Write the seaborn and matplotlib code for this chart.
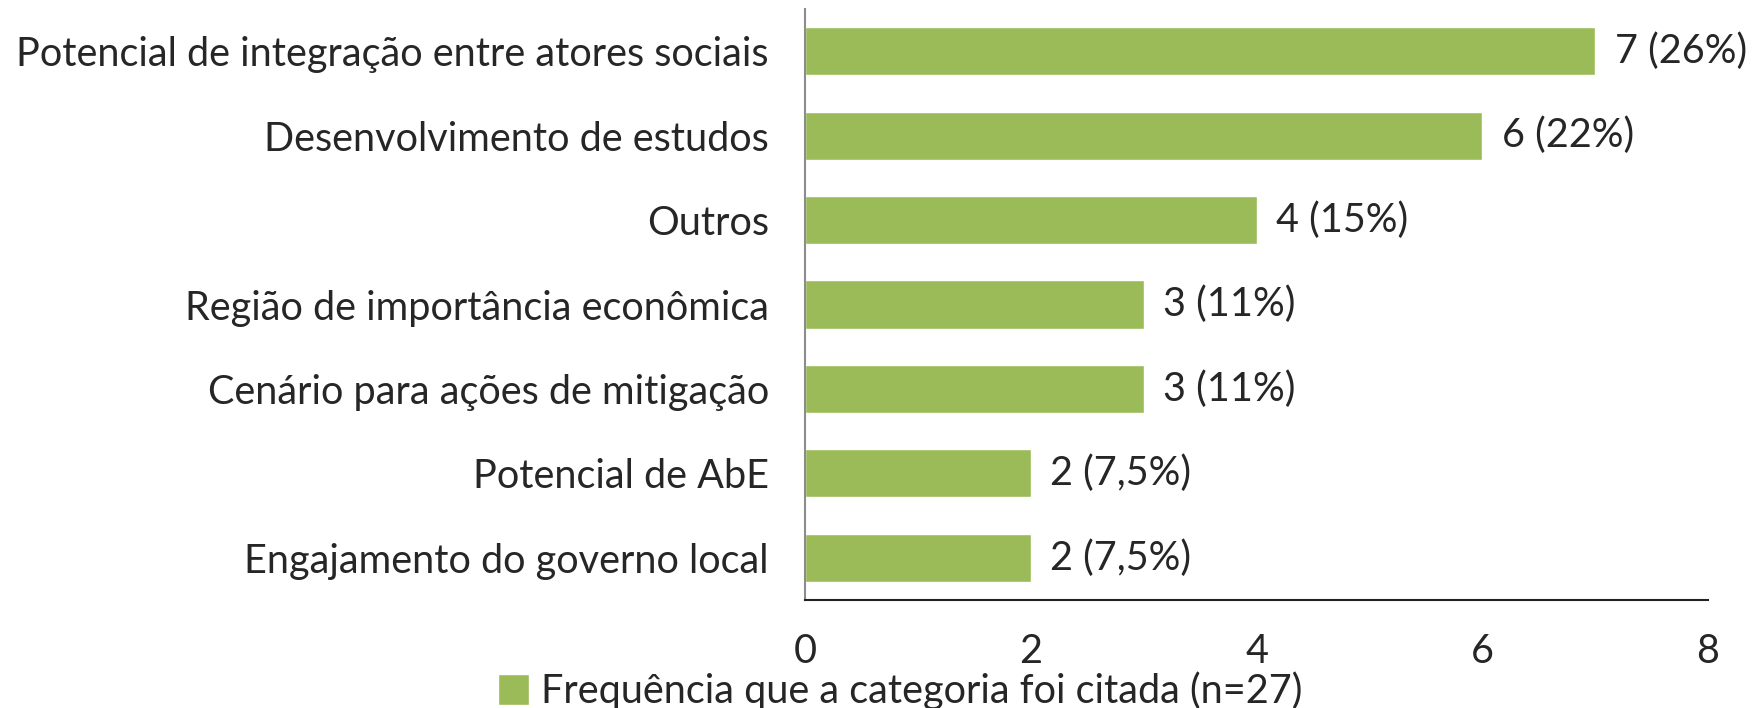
import matplotlib
matplotlib.use("Agg")
import matplotlib.pyplot as plt
from matplotlib.patches import Patch
import seaborn as sns
import pandas as pd

# ── DADOS ─────────────────────────────────────────────────────────────────────
categorias = [
    "Potencial de integração entre atores sociais",
    "Desenvolvimento de estudos",
    "Outros",
    "Região de importância econômica",
    "Cenário para ações de mitigação",
    "Potencial de AbE",
    "Engajamento do governo local",
]
frequencias = [7, 6, 4, 3, 3, 2, 2]
rotulos = ["7 (26%)", "6 (22%)", "4 (15%)", "3 (11%)", "3 (11%)", "2 (7,5%)", "2 (7,5%)"]
xticks = [0, 2, 4, 6, 8]
legenda = "Frequência que a categoria foi citada (n=27)"

VERDE = "#9BBB59"
FS = 28.5

sns.set_style("white")
plt.rcParams["font.family"] = ["Lato", "DejaVu Sans"]

df = pd.DataFrame({"categoria": categorias, "freq": frequencias})

fig = plt.figure(figsize=(17.6, 7.08), dpi=100)
ax = fig.add_axes([805 / 1760, 1 - 600 / 708, (1708 - 805) / 1760, (600 - 9) / 708])

sns.barplot(data=df, y="categoria", x="freq", orient="h", color=VERDE,
            saturation=1, width=0.57, ax=ax)

ax.bar_label(ax.containers[0], labels=rotulos, padding=14, fontsize=FS)

ax.set_xlim(0, 8)
ax.set_ylim(len(categorias) - 0.5, -0.5)
ax.set_xticks(xticks)
ax.set_xlabel("")
ax.set_ylabel("")
ax.tick_params(axis="y", length=0, pad=26, labelsize=FS)
ax.tick_params(axis="x", length=0, pad=24, labelsize=FS)

for s in ["top", "right"]:
    ax.spines[s].set_visible(False)
ax.spines["left"].set_color("#8C8C8C")
ax.spines["left"].set_linewidth(1.5)
ax.spines["bottom"].set_color("#222222")
ax.spines["bottom"].set_linewidth(1.5)

fig.legend(handles=[Patch(facecolor=VERDE, label=legenda)], loc="center",
           bbox_to_anchor=(900 / 1760, 1 - 691 / 708), frameon=False,
           fontsize=FS, handlelength=0.8, handleheight=0.8, handletextpad=0.3,
           borderpad=0)

fig.savefig("out.png", dpi=100)
